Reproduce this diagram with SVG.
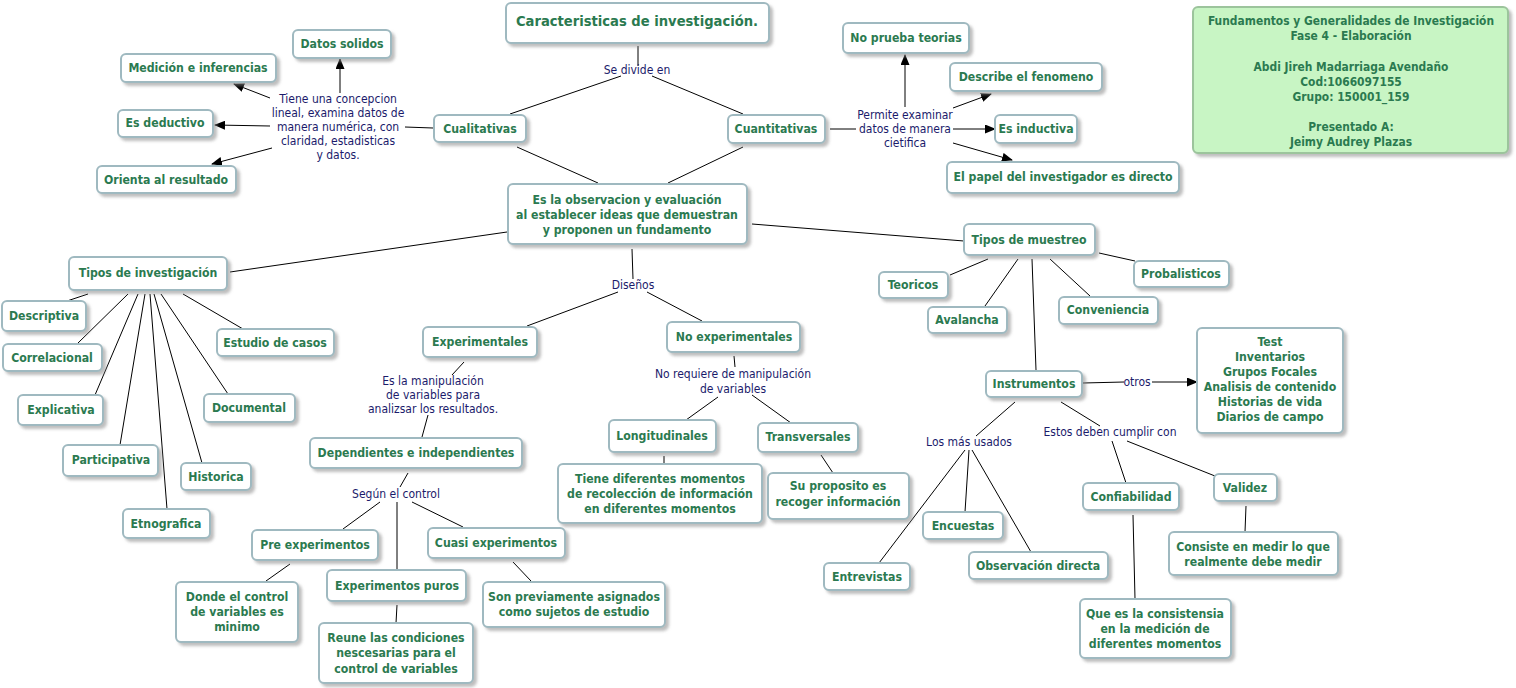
<svg xmlns="http://www.w3.org/2000/svg" width="1516" height="688" viewBox="0 0 1516 688">
<defs>
<style>
.box{fill:#ffffff;stroke:#9fb9c0;stroke-width:2;filter:url(#sh)}
.info{fill:#c8f5c4;stroke:#9cc49c;stroke-width:2;filter:url(#sh)}
.t{font-family:"DejaVu Sans Condensed","DejaVu Sans",sans-serif;font-stretch:condensed;font-weight:bold;font-size:12.2px;fill:#2b7a50;text-anchor:middle}
.big{font-size:14.6px}
.it{font-size:11.9px}
.l{font-family:"DejaVu Sans Condensed","DejaVu Sans",sans-serif;font-stretch:condensed;font-size:12px;fill:#1b1b6b;text-anchor:middle}
#connectors path{stroke:#000;stroke-width:1;fill:none}
#connectors path.a{marker-end:url(#arr)}
</style>
<filter id="sh" x="-10%" y="-10%" width="130%" height="140%">
<feDropShadow dx="3" dy="3" stdDeviation="1.5" flood-color="#888888" flood-opacity="0.55"/>
</filter>
<marker id="arr" markerWidth="11" markerHeight="9" refX="10" refY="4.5" orient="auto" markerUnits="userSpaceOnUse">
<path d="M0,0 L11,4.5 L0,9 Z" fill="#000"/>
</marker>
</defs>
<rect width="1516" height="688" fill="#ffffff"/>

<g id="connectors">
<path d="M638,46 L638,66"/>
<path d="M621,76 L510,114"/>
<path d="M652,76 L743,114"/>
<path d="M517,147 L598,183"/>
<path d="M743,147 L668,183"/>
<path d="M433,128 L405,127"/>
<path class="a" d="M340,93 L340,59"/>
<path class="a" d="M270,98 L234,84"/>
<path class="a" d="M270,126 L215,125"/>
<path class="a" d="M272,148 L212,164"/>
<path d="M830,129 L856,129"/>
<path class="a" d="M905,107 L905,55"/>
<path class="a" d="M953,108 L991,94"/>
<path class="a" d="M953,129 L995,129"/>
<path class="a" d="M953,143 L1012,160"/>
<path d="M507,232 L230,272"/>
<path d="M752,224 L964,241"/>
<path d="M632,249 L633,279"/>
<path d="M618,292 L527,326"/>
<path d="M647,292 L702,321"/>
<path d="M88,294 L67,301"/>
<path d="M128,294 L78,343"/>
<path d="M138,294 L95,395"/>
<path d="M145,294 L120,445"/>
<path d="M150,294 L167,509"/>
<path d="M154,294 L202,463"/>
<path d="M161,294 L228,394"/>
<path d="M183,294 L243,329"/>
<path d="M464,362 L452,375"/>
<path d="M428,415 L422,437"/>
<path d="M408,473 L400,487"/>
<path d="M380,502 L343,529"/>
<path d="M397,502 L397,570"/>
<path d="M412,502 L463,527"/>
<path d="M290,564 L266,581"/>
<path d="M397,605 L396,623"/>
<path d="M513,562 L531,581"/>
<path d="M734,356 L735,367"/>
<path d="M718,397 L686,420"/>
<path d="M752,395 L791,423"/>
<path d="M664,456 L664,464"/>
<path d="M821,455 L833,473"/>
<path d="M988,259 L950,275"/>
<path d="M1018,259 L985,306"/>
<path d="M1032,259 L1036,370"/>
<path d="M1050,259 L1090,296"/>
<path d="M1099,253 L1135,261"/>
<path d="M1083,383 L1124,382"/>
<path class="a" d="M1152,382 L1197,382"/>
<path d="M1015,402 L976,436"/>
<path d="M965,450 L879,563"/>
<path d="M969,450 L965,512"/>
<path d="M972,450 L1031,552"/>
<path d="M1061,402 L1100,426"/>
<path d="M1112,441 L1126,483"/>
<path d="M1127,441 L1215,476"/>
<path d="M1133,515 L1135,599"/>
<path d="M1246,506 L1245,532"/>
</g>

<g id="n-title"><rect class="box" x="506" y="3" width="263" height="40" rx="5"/><text class="t big" x="637" y="26">Caracteristicas de investigación.</text></g>
<g id="n-cualitativas"><rect class="box" x="434" y="115" width="92" height="27" rx="5"/><text class="t" x="480" y="133">Cualitativas</text></g>
<g id="n-cuantitativas"><rect class="box" x="728" y="115" width="97" height="28" rx="5"/><text class="t" x="776" y="133">Cuantitativas</text></g>
<g id="n-central"><rect class="box" x="508" y="184" width="239" height="60" rx="5"/><text class="t" x="627" y="204">Es la observacion y evaluación</text><text class="t" x="627" y="219">al establecer ideas que demuestran</text><text class="t" x="627" y="234">y proponen un fundamento</text></g>
<g id="n-datos"><rect class="box" x="293" y="30" width="98" height="28" rx="5"/><text class="t" x="342" y="48">Datos solidos</text></g>
<g id="n-medicion"><rect class="box" x="121" y="54" width="155" height="28" rx="5"/><text class="t" x="198" y="72">Medición e inferencias</text></g>
<g id="n-deductivo"><rect class="box" x="118" y="110" width="95" height="27" rx="5"/><text class="t" x="165" y="127">Es deductivo</text></g>
<g id="n-orienta"><rect class="box" x="97" y="166" width="139" height="27" rx="5"/><text class="t" x="166" y="184">Orienta al resultado</text></g>
<g id="n-noprueba"><rect class="box" x="843" y="23" width="126" height="30" rx="5"/><text class="t" x="906" y="42">No prueba teorias</text></g>
<g id="n-describe"><rect class="box" x="950" y="63" width="152" height="28" rx="5"/><text class="t" x="1026" y="81">Describe el fenomeno</text></g>
<g id="n-inductiva"><rect class="box" x="995" y="115" width="82" height="28" rx="5"/><text class="t" x="1036" y="133">Es inductiva</text></g>
<g id="n-papel"><rect class="box" x="947" y="162" width="232" height="31" rx="5"/><text class="t" x="1063" y="181">El papel del investigador es directo</text></g>
<g id="n-info"><rect class="info" x="1193" y="7" width="315" height="146" rx="5"/>
<text class="t it" x="1351" y="25">Fundamentos y Generalidades de Investigación</text>
<text class="t it" x="1351" y="40">Fase 4 - Elaboración</text>
<text class="t it" x="1351" y="71">Abdi Jireh Madarriaga Avendaño</text>
<text class="t it" x="1351" y="86">Cod:1066097155</text>
<text class="t it" x="1351" y="101">Grupo: 150001_159</text>
<text class="t it" x="1351" y="131">Presentado A:</text>
<text class="t it" x="1351" y="146">Jeimy Audrey Plazas</text></g>
<g id="n-tiposinv"><rect class="box" x="69" y="257" width="158" height="33" rx="5"/><text class="t" x="148" y="277">Tipos de investigación</text></g>
<g id="n-descriptiva"><rect class="box" x="2" y="301" width="84" height="30" rx="5"/><text class="t" x="44" y="320">Descriptiva</text></g>
<g id="n-correlacional"><rect class="box" x="3" y="344" width="99" height="27" rx="5"/><text class="t" x="52" y="362">Correlacional</text></g>
<g id="n-explicativa"><rect class="box" x="18" y="395" width="85" height="30" rx="5"/><text class="t" x="61" y="414">Explicativa</text></g>
<g id="n-participativa"><rect class="box" x="63" y="445" width="95" height="31" rx="5"/><text class="t" x="111" y="464">Participativa</text></g>
<g id="n-etnografica"><rect class="box" x="123" y="509" width="87" height="29" rx="5"/><text class="t" x="166" y="528">Etnografica</text></g>
<g id="n-historica"><rect class="box" x="181" y="463" width="70" height="27" rx="5"/><text class="t" x="216" y="481">Historica</text></g>
<g id="n-documental"><rect class="box" x="204" y="394" width="91" height="28" rx="5"/><text class="t" x="249" y="412">Documental</text></g>
<g id="n-estudio"><rect class="box" x="217" y="329" width="117" height="27" rx="5"/><text class="t" x="275" y="347">Estudio de casos</text></g>
<g id="n-experimentales"><rect class="box" x="423" y="327" width="114" height="30" rx="5"/><text class="t" x="480" y="346">Experimentales</text></g>
<g id="n-noexperimentales"><rect class="box" x="667" y="322" width="133" height="30" rx="5"/><text class="t" x="734" y="341">No experimentales</text></g>
<g id="n-dependientes"><rect class="box" x="310" y="438" width="212" height="30" rx="5"/><text class="t" x="416" y="457">Dependientes e independientes</text></g>
<g id="n-pre"><rect class="box" x="252" y="530" width="126" height="30" rx="5"/><text class="t" x="315" y="549">Pre experimentos</text></g>
<g id="n-cuasi"><rect class="box" x="428" y="528" width="137" height="30" rx="5"/><text class="t" x="496" y="547">Cuasi experimentos</text></g>
<g id="n-puros"><rect class="box" x="327" y="570" width="139" height="31" rx="5"/><text class="t" x="397" y="590">Experimentos puros</text></g>
<g id="n-donde"><rect class="box" x="176" y="582" width="122" height="60" rx="5"/><text class="t" x="237" y="601">Donde el control</text><text class="t" x="237" y="616">de variables es</text><text class="t" x="237" y="631">minimo</text></g>
<g id="n-reune"><rect class="box" x="319" y="623" width="154" height="60" rx="5"/><text class="t" x="396" y="642">Reune las condiciones</text><text class="t" x="396" y="657">nescesarias para el</text><text class="t" x="396" y="673">control de variables</text></g>
<g id="n-son"><rect class="box" x="483" y="582" width="182" height="45" rx="5"/><text class="t" x="574" y="601">Son previamente asignados</text><text class="t" x="574" y="616">como sujetos de estudio</text></g>
<g id="n-longitudinales"><rect class="box" x="609" y="420" width="107" height="32" rx="5"/><text class="t" x="662" y="440">Longitudinales</text></g>
<g id="n-transversales"><rect class="box" x="758" y="423" width="100" height="29" rx="5"/><text class="t" x="808" y="441">Transversales</text></g>
<g id="n-tiene"><rect class="box" x="558" y="464" width="204" height="59" rx="5"/><text class="t" x="660" y="483">Tiene diferentes momentos</text><text class="t" x="660" y="498">de recolección de información</text><text class="t" x="660" y="513">en diferentes momentos</text></g>
<g id="n-proposito"><rect class="box" x="768" y="473" width="141" height="46" rx="5"/><text class="t" x="838" y="490">Su proposito es</text><text class="t" x="838" y="506">recoger información</text></g>
<g id="n-muestreo"><rect class="box" x="964" y="224" width="131" height="31" rx="5"/><text class="t" x="1029" y="244">Tipos de muestreo</text></g>
<g id="n-teoricos"><rect class="box" x="879" y="272" width="69" height="26" rx="5"/><text class="t" x="913" y="289">Teoricos</text></g>
<g id="n-avalancha"><rect class="box" x="928" y="307" width="79" height="26" rx="5"/><text class="t" x="967" y="324">Avalancha</text></g>
<g id="n-conveniencia"><rect class="box" x="1059" y="297" width="99" height="27" rx="5"/><text class="t" x="1108" y="314">Conveniencia</text></g>
<g id="n-probalisticos"><rect class="box" x="1134" y="261" width="95" height="26" rx="5"/><text class="t" x="1181" y="278">Probalisticos</text></g>
<g id="n-instrumentos"><rect class="box" x="986" y="371" width="96" height="26" rx="5"/><text class="t" x="1034" y="388">Instrumentos</text></g>
<g id="n-test"><rect class="box" x="1197" y="328" width="146" height="105" rx="5"/>
<text class="t" x="1270" y="346">Test</text><text class="t" x="1270" y="361">Inventarios</text><text class="t" x="1270" y="376">Grupos Focales</text><text class="t" x="1270" y="391">Analisis de contenido</text><text class="t" x="1270" y="406">Historias de vida</text><text class="t" x="1270" y="421">Diarios de campo</text></g>
<g id="n-entrevistas"><rect class="box" x="824" y="563" width="86" height="27" rx="5"/><text class="t" x="867" y="581">Entrevistas</text></g>
<g id="n-encuestas"><rect class="box" x="923" y="512" width="80" height="27" rx="5"/><text class="t" x="963" y="530">Encuestas</text></g>
<g id="n-observacion"><rect class="box" x="969" y="552" width="139" height="27" rx="5"/><text class="t" x="1038" y="570">Observación directa</text></g>
<g id="n-confiabilidad"><rect class="box" x="1083" y="483" width="96" height="27" rx="5"/><text class="t" x="1131" y="501">Confiabilidad</text></g>
<g id="n-validez"><rect class="box" x="1214" y="474" width="63" height="27" rx="5"/><text class="t" x="1245" y="492">Validez</text></g>
<g id="n-quees"><rect class="box" x="1080" y="599" width="151" height="59" rx="5"/><text class="t" x="1155" y="618">Que es la consistensia</text><text class="t" x="1155" y="633">en la medición de</text><text class="t" x="1155" y="648">diferentes momentos</text></g>
<g id="n-consiste"><rect class="box" x="1169" y="532" width="169" height="43" rx="5"/><text class="t" x="1253" y="551">Consiste en medir lo que</text><text class="t" x="1253" y="566">realmente debe medir</text></g>

<g id="lp-sedivide"><text class="l" x="637" y="74">Se divide en</text></g>
<g id="lp-tiene"><text class="l" x="338" y="103">Tiene una concepcion</text><text class="l" x="338" y="117">lineal, examina datos de</text><text class="l" x="338" y="131">manera numérica, con</text><text class="l" x="338" y="145">claridad, estadisticas</text><text class="l" x="338" y="159">y datos.</text></g>
<g id="lp-permite"><text class="l" x="905" y="119">Permite examinar</text><text class="l" x="905" y="133">datos de manera</text><text class="l" x="905" y="147">cietifica</text></g>
<g id="lp-disenos"><text class="l" x="633" y="289">Diseños</text></g>
<g id="lp-manipulacion"><text class="l" x="433" y="385">Es la manipulación</text><text class="l" x="433" y="399">de variables para</text><text class="l" x="433" y="413">analizsar los resultados.</text></g>
<g id="lp-segun"><text class="l" x="396" y="498">Según el control</text></g>
<g id="lp-norequiere"><text class="l" x="733" y="378">No requiere de manipulación</text><text class="l" x="733" y="393">de variables</text></g>
<g id="lp-otros"><text class="l" x="1137" y="386">otros</text></g>
<g id="lp-losmas"><text class="l" x="969" y="446">Los más usados</text></g>
<g id="lp-estos"><text class="l" x="1110" y="436">Estos deben cumplir con</text></g>
</svg>
